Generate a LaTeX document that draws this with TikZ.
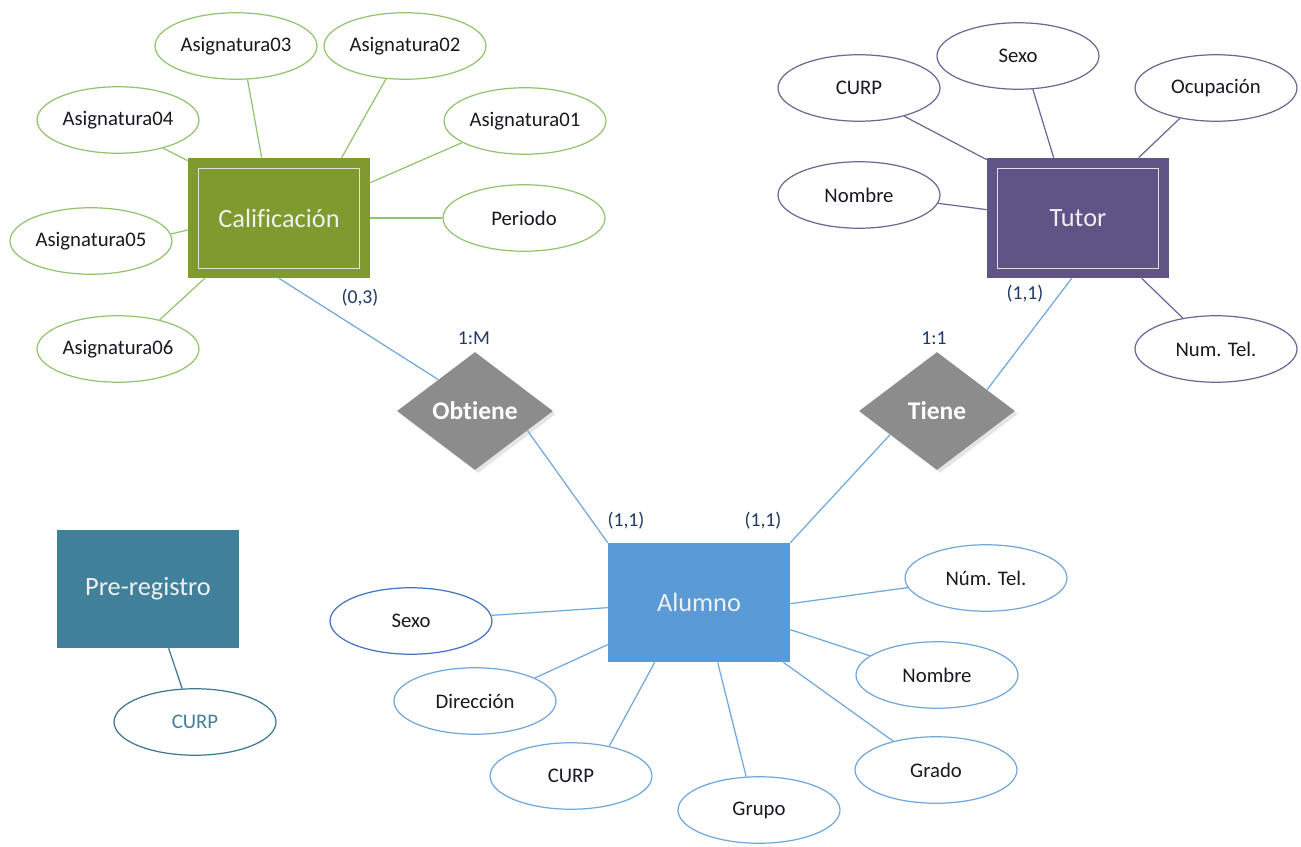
\documentclass[tikz,border=0pt]{standalone}
\usepackage{fontspec}
\setmainfont{Carlito}[Ligatures=NoCommon]
\usetikzlibrary{shapes.geometric,calc}
\definecolor{calfill}{RGB}{127,155,47}
\definecolor{calline}{RGB}{146,196,110}
\definecolor{tutfill}{RGB}{95,84,133}
\definecolor{tutline}{RGB}{112,102,150}
\definecolor{alufill}{RGB}{91,155,213}
\definecolor{aluline}{RGB}{112,168,222}
\definecolor{aludark}{RGB}{70,114,196}
\definecolor{prefill}{RGB}{65,128,155}
\definecolor{preline}{RGB}{60,120,142}
\definecolor{relfill}{RGB}{140,140,140}
\definecolor{labcol}{RGB}{31,56,100}
\definecolor{txtcol}{RGB}{25,25,35}
\tikzset{
  entbox/.style={rectangle, minimum width=3.64cm, minimum height=2.4cm, inner sep=0pt,
    text=white!94!black, font=\fontsize{15}{18}\selectfont},
  attr/.style={ellipse, draw, line width=0.7pt, fill=white, minimum width=3.24cm, minimum height=1.33cm,
    inner sep=0pt, text=txtcol, font=\fontsize{11.8}{14}\selectfont},
  calattr/.style={attr, draw=calline},
  tutattr/.style={attr, draw=tutline},
  aluattr/.style={attr, draw=aluline},
  relshape/.style={diamond, fill=relfill, minimum width=3.12cm, minimum height=2.36cm, inner sep=0pt,
    text=white, font=\bfseries\fontsize{14.5}{17}\selectfont},
  card/.style={text=labcol, font=\fontsize{11.2}{13}\selectfont, inner sep=0pt},
  calcon/.style={draw=calline, line width=0.7pt},
  tutcon/.style={draw=tutline, line width=0.7pt},
  alucon/.style={draw=aluline, line width=0.7pt},
  innerframe/.style={draw=white!88!black, line width=0.8pt}
}
\begin{document}
\begin{tikzpicture}[x=0.02cm,y=-0.02cm]
\useasboundingbox (0,0) rectangle (1301,847);

% entities
\node[entbox, fill=calfill] (cal) at (279,218) {Calificación};
\draw[innerframe] ([shift={(11,11)}]cal.north west) rectangle ([shift={(-11,-10)}]cal.south east);
\node[entbox, fill=tutfill] (tut) at (1078,218) {Tutor};
\draw[innerframe] ([shift={(11,11)}]tut.north west) rectangle ([shift={(-11,-10)}]tut.south east);
\node[entbox, fill=alufill, minimum height=2.38cm] (alu) at (699,602.5) {Alumno};
\node[entbox, fill=prefill, minimum height=2.36cm] (pre) at (148,589) {Pre-registro};

% relationships
\node[diamond, fill=black!10, minimum width=3.12cm, minimum height=2.36cm, inner sep=0pt] (obsh) at (478,414) {};
\node[relshape] (ob) at (475,411) {Obtiene};
\node[diamond, fill=black!10, minimum width=3.12cm, minimum height=2.36cm, inner sep=0pt] (tish) at (940,414) {};
\node[relshape] (ti) at (937,411) {Tiene};

% Calificacion attributes
\node[calattr] (a03) at (236,46) {Asignatura03};
\node[calattr] (a02) at (405,46) {Asignatura02};
\node[calattr] (a04) at (118,120) {Asignatura04};
\node[calattr] (a01) at (525,121) {Asignatura01};
\node[calattr] (a05) at (91,241) {Asignatura05};
\node[calattr] (per) at (524,218) {Periodo};
\node[calattr] (a06) at (118,349) {Asignatura06};

% Tutor attributes
\node[tutattr] (tcurp) at (859,88) {CURP};
\node[tutattr] (tsexo) at (1018,56) {Sexo};
\node[tutattr] (tocu) at (1216,88) {Ocupación};
\node[tutattr] (tnom) at (859,195) {Nombre};
\node[tutattr] (ttel) at (1216,349) {Num. Tel.};

% Alumno attributes
\node[attr, draw=aludark] (asexo) at (411,621) {Sexo};
\node[aluattr] (adir) at (475,701) {Dirección};
\node[aluattr] (acurp) at (571,776) {CURP};
\node[aluattr] (agru) at (759,810) {Grupo};
\node[aluattr] (atel) at (986,578) {Núm. Tel.};
\node[aluattr] (anom) at (937,675) {Nombre};
\node[aluattr] (agra) at (936,770) {Grado};

% Pre-registro attribute
\node[attr, draw=preline, text=prefill] (pcurp) at (195,722) {CURP};

% connectors Calificacion
\path[calcon] ([shift={(74,0)}]cal.north west) -- (a03.-71);
\path[calcon] ([shift={(154,0)}]cal.north west) -- (a02.-120);
\path[calcon] ([shift={(0,3)}]cal.north west) -- (a04.-32);
\path[calcon] ([shift={(0,25)}]cal.north east) -- (a01.-161);
\path[calcon] (cal.east) -- (per.west);
\path[calcon] ([shift={(0,12)}]cal.west) -- (a05.5);
\path[calcon] ([shift={(17,0)}]cal.south west) -- (a06.35);

% connectors Tutor
\path[tutcon] ([shift={(0,2)}]tut.north west) -- (tcurp.-32);
\path[tutcon] ([shift={(67,0)}]tut.north west) -- (tsexo.-66);
\path[tutcon] ([shift={(152,0)}]tut.north west) -- (tocu.-140);
\path[tutcon] ([shift={(0,52)}]tut.north west) -- (tnom.-6);
\path[tutcon] ([shift={(155,0)}]tut.south west) -- (ttel.137);

% connectors Alumno
\path[alucon] ([shift={(0,65)}]alu.north west) -- (asexo.4);
\path[alucon] ([shift={(0,102)}]alu.north west) -- (adir.21);
\path[alucon] ([shift={(47,0)}]alu.south west) -- (acurp.38);
\path[alucon] ([shift={(110,0)}]alu.south west) -- (agru.111);
\path[alucon] ([shift={(0,61)}]alu.north east) -- (atel.-173);
\path[alucon] ([shift={(0,87)}]alu.north east) -- (anom.164);
\path[alucon] ([shift={(-7,0)}]alu.south east) -- (agra.146);

% relationship connectors
\path[alucon] (cal.south) -- ($(ob.west)!0.53!(ob.north)$);
\path[alucon] ($(ob.east)!0.33!(ob.south)$) -- (alu.north west);
\path[alucon] ([shift={(85,0)}]tut.south west) -- ($(ti.north)!0.64!(ti.east)$);
\path[alucon] ($(ti.west)!0.4!(ti.south)$) -- (alu.north east);

% Pre-registro connector
\path[draw=preline, line width=0.7pt] ([shift={(112,0)}]pre.south west) -- (pcurp.111);

% cardinalities
\node[card] (c1) at (360,298) {(0,3)};
\node[card] (c2) at (474,338) {1:M};
\node[card] (c3) at (626,521) {(1,1)};
\node[card] (c4) at (763,521) {(1,1)};
\node[card] (c5) at (934,338) {1:1};
\node[card] (c6) at (1025,294) {(1,1)};
\end{tikzpicture}
\end{document}
